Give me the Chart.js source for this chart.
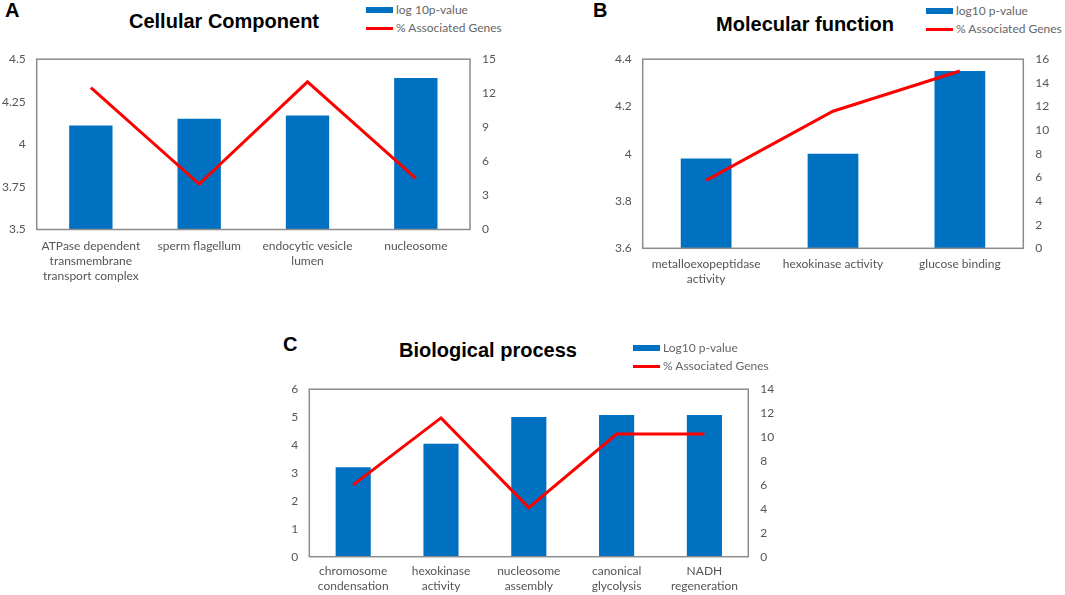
<!DOCTYPE html>
<html>
<head>
<meta charset="utf-8">
<script src="https://cdn.jsdelivr.net/npm/chart.js@4/dist/chart.umd.min.js"></script>
<style>
  html, body { margin: 0; padding: 0; background: #fff; }
  body { width: 1065px; height: 595px; position: relative; overflow: hidden; font-family: Lato, "Liberation Sans", sans-serif; }
  canvas { position: absolute; }
  .letter { position: absolute; font-family: "Liberation Sans", Arial, sans-serif; font-weight: bold; font-size: 20px; line-height: 20px; color: #000; }
  .title { position: absolute; font-family: "Liberation Sans", Arial, sans-serif; font-weight: bold; font-size: 20px; line-height: 20px; color: #000; transform: translateX(-50%); white-space: nowrap; }
  .leg { position: absolute; font-family: Lato, sans-serif; font-size: 12px; color: #666; white-space: nowrap; }
  .leg .row { position: relative; height: 18px; }
  .leg .sw { position: absolute; left: 0; width: 27px; }
  .leg .tx { position: absolute; left: 30px; line-height: 14px; }
</style>
</head>
<body>
<canvas id="cA" width="540" height="250" style="left:0px;top:40px;width:540px;height:250px"></canvas>
<canvas id="cB" width="465" height="270" style="left:600px;top:40px;width:465px;height:270px"></canvas>
<canvas id="cC" width="540" height="225" style="left:260px;top:370px;width:540px;height:225px"></canvas>

<div class="letter" style="left:5px;top:0px">A</div>
<div class="letter" style="left:593px;top:0px">B</div>
<div class="letter" style="left:283px;top:334px">C</div>

<div class="title" style="left:224px;top:11px">Cellular Component</div>
<div class="title" style="left:805px;top:14px">Molecular function</div>
<div class="title" style="left:488px;top:340px">Biological process</div>

<div class="leg" id="legA" style="left:366px;top:3px"></div>
<div class="leg" id="legB" style="left:926px;top:4px"></div>
<div class="leg" id="legC" style="left:633px;top:341px"></div>

<script>
// ---- Data ----
const catsA = [["ATPase dependent", "transmembrane", "transport complex"], "sperm flagellum", ["endocytic vesicle", "lumen"], "nucleosome"];
const barA = [4.11, 4.15, 4.17, 4.39];
const lineA = [12.5, 4.0, 13.0, 4.5];
const barLabelA = "log 10p-value";

const catsB = [["metalloexopeptidase", "activity"], "hexokinase activity", "glucose binding"];
const barB = [3.98, 4.00, 4.35];
const lineB = [5.75, 11.6, 15.0];
const barLabelB = "log10 p-value";

const catsC = [["chromosome", "condensation"], ["hexokinase", "activity"], ["nucleosome", "assembly"], ["canonical", "glycolysis"], ["NADH", "regeneration"]];
const barC = [3.2, 4.05, 5.0, 5.08, 5.08];
const lineC = [6.0, 11.6, 4.1, 10.25, 10.25];
const barLabelC = "Log10 p-value";

const lineLabel = "% Associated Genes";

// axis ranges / steps
const axisA = { lmin: 3.5, lmax: 4.5, lstep: 0.25, rmin: 0, rmax: 15, rstep: 3 };
const axisB = { lmin: 3.6, lmax: 4.4, lstep: 0.2, rmin: 0, rmax: 16, rstep: 2 };
const axisC = { lmin: 0, lmax: 6, lstep: 1, rmin: 0, rmax: 14, rstep: 2 };

const BLUE = '#0070C0';
const RED = '#FF0000';
const TICK = '#555555';

const frame = {
  id: 'frame',
  afterDatasetsDraw(chart) {
    const a = chart.chartArea, ctx = chart.ctx;
    ctx.save();
    ctx.strokeStyle = '#8c8c8c';
    ctx.lineWidth = 1.5;
    ctx.strokeRect(a.left, a.top, a.right - a.left, a.bottom - a.top);
    ctx.restore();
  }
};

function fmt(v) { return String(+Number(v).toFixed(2)); }

function build(id, cats, bars, line, barLabel, ax, geo) {
  const chart = new Chart(document.getElementById(id), {
    type: 'bar',
    data: {
      labels: cats,
      datasets: [
        { type: 'bar', label: barLabel, data: bars, backgroundColor: BLUE, borderWidth: 0,
          barPercentage: 0.4, categoryPercentage: 1.0, yAxisID: 'y', order: 1 },
        { type: 'line', label: lineLabel, data: line, borderColor: RED, backgroundColor: RED,
          borderWidth: 3, pointRadius: 0, tension: 0, yAxisID: 'y1', order: 0 }
      ]
    },
    options: {
      responsive: false,
      animation: false,
      events: [],
      layout: { padding: { top: geo.top, left: 0, right: 0, bottom: 0 } },
      plugins: { legend: { display: false }, title: { display: false }, tooltip: { enabled: false } },
      scales: {
        x: {
          grid: { display: false, drawTicks: false }, border: { display: false },
          ticks: { color: TICK, font: { family: 'Lato', size: 12, lineHeight: geo.lh }, padding: geo.xpad, maxRotation: 0, autoSkip: false },
          afterFit(s) { s.height = geo.xh; }
        },
        y: {
          position: 'left', min: ax.lmin, max: ax.lmax,
          grid: { display: false, drawTicks: false }, border: { display: false },
          ticks: { stepSize: ax.lstep, color: TICK, font: { family: 'Lato', size: 12 }, padding: 11, callback: fmt },
          afterFit(s) { s.width = geo.lw; }
        },
        y1: {
          position: 'right', min: ax.rmin, max: ax.rmax,
          grid: { display: false, drawTicks: false }, border: { display: false },
          ticks: { stepSize: ax.rstep, color: TICK, font: { family: 'Lato', size: 12 }, padding: 12, callback: fmt },
          afterFit(s) { s.width = geo.rw; }
        }
      }
    },
    plugins: [frame]
  });
  return chart;
}

function legend(elId, chart) {
  const el = document.getElementById(elId);
  chart.data.datasets.forEach((ds, i) => {
    const row = document.createElement('div');
    row.className = 'row';
    const sw = document.createElement('div');
    sw.className = 'sw';
    if (ds.type === 'bar') {
      sw.style.top = '4px'; sw.style.height = '6px'; sw.style.background = ds.backgroundColor;
    } else {
      sw.style.top = '5.5px'; sw.style.height = '3px'; sw.style.background = ds.borderColor;
    }
    const tx = document.createElement('div');
    tx.className = 'tx';
    tx.textContent = ds.label;
    row.appendChild(sw); row.appendChild(tx);
    el.appendChild(row);
  });
}

const chA = build('cA', catsA, barA, lineA, barLabelA, axisA, { top: 10, lw: 36.7, rw: 70, xh: 60.5, xpad: 9, lh: 1.25 });
const chB = build('cB', catsB, barB, lineB, barLabelB, axisB, { top: 18.3, lw: 42.7, rw: 41.7, xh: 61.7, xpad: 8, lh: 1.25 });
const chC = build('cC', catsC, barC, lineC, barLabelC, axisC, { top: 15, lw: 49.3, rw: 51.7, xh: 38.3, xpad: 7.5, lh: 1.2 });

legend('legA', chA);
legend('legB', chB);
legend('legC', chC);
</script>
</body>
</html>
